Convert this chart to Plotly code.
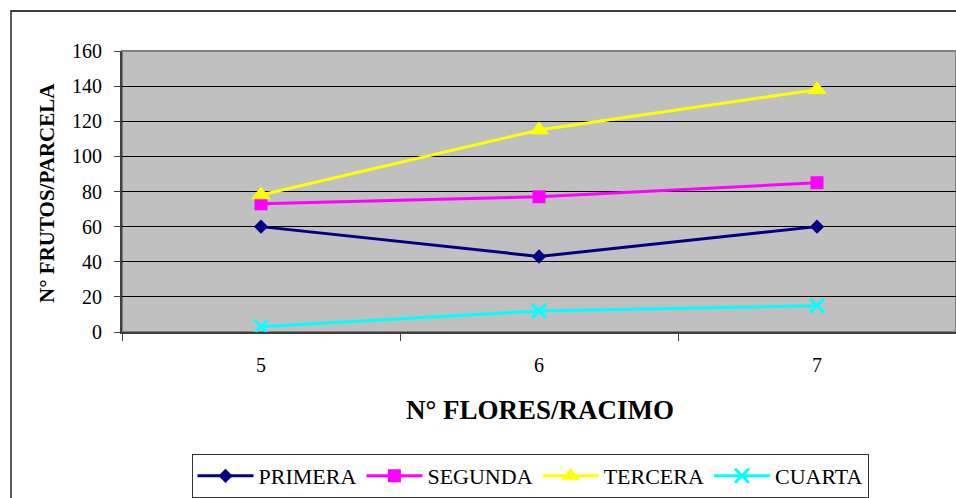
import plotly.graph_objects as go

# Number of flowers per cluster (category axis)
flores = ["5", "6", "7"]

# Fruits per plot for each harvest
primera = [60, 43, 60]
segunda = [73, 77, 85]
tercera = [78, 115, 138]
cuarta = [3, 12, 15]

series = [
    ("PRIMERA", primera, "#000080", "diamond", 11),
    ("SEGUNDA", segunda, "#FF00FF", "square", 13),
    ("TERCERA", tercera, "#FFFF00", "triangle-up", 17),
    ("CUARTA", cuarta, "#00FFFF", "x-thin", 14),
]

SERIF = "Liberation Serif, Times New Roman, serif"

fig = go.Figure()
for name, vals, color, symbol, size in series:
    fig.add_trace(go.Scatter(
        x=flores, y=vals, name=name, mode="lines+markers",
        line=dict(color=color, width=3),
        marker=dict(symbol=symbol, size=size, color=color,
                    line=dict(color=color, width=3 if symbol == "x-thin" else 0)),
    ))

L, T, B = 122, 51, 166
W, H = 956, 498
pw, ph = W - L, H - T - B

def px(x):
    return (x - L) / pw

def py(y):
    return (H - B - y) / ph

fig.update_layout(
    width=W, height=H,
    margin=dict(l=L, r=0, t=T, b=B, pad=0),
    paper_bgcolor="white",
    plot_bgcolor="#C0C0C0",
    font=dict(family=SERIF, color="black", size=20),
    showlegend=True,
    legend=dict(
        orientation="h", x=px(530), xanchor="center", y=py(454), yanchor="top",
        bgcolor="white", bordercolor="#333333", borderwidth=1,
        font=dict(family=SERIF, size=22, color="black"),
        itemwidth=56,
    ),
    xaxis=dict(
        type="category", range=[-0.5, 2.5], showgrid=False,
        showline=True, linecolor="#404040", linewidth=2,
        ticks="outside", tickson="boundaries", ticklen=7, tickcolor="#404040",
        tickfont=dict(family=SERIF, size=20, color="black"),
        ticklabelstandoff=14, fixedrange=True,
    ),
    yaxis=dict(
        range=[0, 160], dtick=20, tick0=0,
        showgrid=True, gridcolor="black", gridwidth=1,
        showline=True, linecolor="#404040", linewidth=2,
        ticks="outside", ticklen=6, tickcolor="#404040",
        tickfont=dict(family=SERIF, size=20, color="black"),
        ticklabelstandoff=8, zeroline=False, fixedrange=True,
    ),
    shapes=[
        # plot area frame
        dict(type="rect", xref="paper", yref="paper", x0=0, x1=1, y0=0, y1=1,
             line=dict(color="#808080", width=2), layer="below"),
        # outer chart frame
        dict(type="rect", xref="paper", yref="paper",
             x0=px(11), x1=px(1000), y0=py(600), y1=py(11),
             line=dict(color="black", width=1.3), layer="below"),
    ],
    annotations=[
        dict(text="<b>N° FLORES/RACIMO</b>", xref="paper", yref="paper",
             x=px(540), y=py(410), xanchor="center", yanchor="middle",
             showarrow=False, font=dict(family=SERIF, size=27, color="black")),
        dict(text="<b>N° FRUTOS/PARCELA</b>", xref="paper", yref="paper",
             x=px(47), y=py(193), xanchor="center", yanchor="middle",
             textangle=-90, showarrow=False,
             font=dict(family=SERIF, size=21, color="black")),
    ],
)

fig.write_html("out.html")
